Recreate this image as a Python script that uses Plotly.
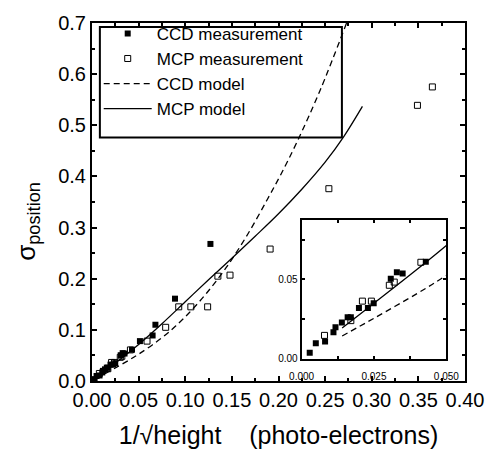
import plotly.graph_objects as go

# CCD measurements (filled squares)
ccd_x = [0.0028, 0.0049, 0.0081, 0.0110, 0.0117, 0.0139, 0.0159, 0.0170, 0.0198, 0.0229,
         0.0249, 0.0308, 0.0329, 0.0349, 0.0429, 0.0514, 0.065, 0.068, 0.089, 0.127]
ccd_y = [0.0037, 0.0098, 0.0108, 0.0167, 0.0198, 0.0228, 0.0261, 0.0261, 0.0320, 0.0320,
         0.0350, 0.0504, 0.0545, 0.0537, 0.0612, 0.078, 0.089, 0.110, 0.161, 0.268]

# MCP measurements (open squares)
mcp_x = [0.0079, 0.017, 0.021, 0.0241, 0.0303, 0.032, 0.0412, 0.059, 0.079, 0.093,
         0.106, 0.124, 0.135, 0.148, 0.191, 0.254, 0.349, 0.365]
mcp_y = [0.0147, 0.024, 0.0363, 0.0363, 0.0463, 0.0483, 0.0608, 0.078, 0.105, 0.145,
         0.145, 0.145, 0.205, 0.207, 0.258, 0.376, 0.539, 0.575]

# CCD model curve (dashed)
ccd_model_x = [0.014, 0.025, 0.04, 0.05, 0.065, 0.08, 0.09, 0.104, 0.123, 0.144,
               0.167, 0.188, 0.202, 0.22, 0.245, 0.273]
ccd_model_y = [0.0143, 0.0255, 0.0412, 0.0525, 0.071, 0.092, 0.108, 0.133, 0.172, 0.222,
               0.287, 0.355, 0.402, 0.468, 0.570, 0.700]

# MCP model curve (solid)
mcp_model_x = [0.014, 0.025, 0.05, 0.075, 0.1, 0.125, 0.15, 0.175, 0.2, 0.225, 0.25, 0.27, 0.29]
mcp_model_y = [0.0194, 0.035, 0.0714, 0.112, 0.155, 0.198, 0.24, 0.283, 0.327, 0.375, 0.428, 0.478, 0.537]

FONT = "Liberation Sans, Arial, sans-serif"
BLACK = "#000000"

fig = go.Figure()

# same data drawn on the main axes and on the zoomed inset axes
for xa, ya, show in (("x", "y", True), ("x2", "y2", False)):
    fig.add_trace(go.Scatter(
        x=ccd_x, y=ccd_y, mode="markers", name="CCD measurement",
        marker=dict(symbol="square", size=6, color=BLACK),
        xaxis=xa, yaxis=ya, showlegend=show))
    fig.add_trace(go.Scatter(
        x=mcp_x, y=mcp_y, mode="markers", name="MCP measurement",
        marker=dict(symbol="square-open", size=6, color=BLACK, line=dict(width=1, color=BLACK)),
        xaxis=xa, yaxis=ya, showlegend=show))
    fig.add_trace(go.Scatter(
        x=ccd_model_x, y=ccd_model_y, mode="lines", name="CCD model",
        line=dict(color=BLACK, width=1.3, dash="6px,4px", shape="spline"),
        xaxis=xa, yaxis=ya, showlegend=show))
    fig.add_trace(go.Scatter(
        x=mcp_model_x, y=mcp_model_y, mode="lines", name="MCP model",
        line=dict(color=BLACK, width=1.3, shape="spline"),
        xaxis=xa, yaxis=ya, showlegend=show))

main_axis = dict(
    showline=True, linewidth=2, linecolor=BLACK, mirror="ticks",
    ticks="inside", ticklen=5, tickwidth=1.5, tickcolor=BLACK,
    showgrid=False, zeroline=False,
    tickfont=dict(family=FONT, size=20, color=BLACK),
)
inset_axis = dict(
    showline=True, linewidth=2, linecolor=BLACK, mirror="ticks",
    ticks="inside", ticklen=3, tickwidth=1.5, tickcolor=BLACK,
    showgrid=False, zeroline=False,
    tickfont=dict(family=FONT, size=10, color=BLACK),
)

fig.update_layout(
    width=496, height=457,
    margin=dict(l=92, r=25, t=14, b=74),
    paper_bgcolor="white", plot_bgcolor="white",
    font=dict(family=FONT, color=BLACK),
    xaxis=dict(
        main_axis, range=[0, 0.4], dtick=0.05, tickformat=".2f",
        minor=dict(dtick=0.025, ticks="inside", ticklen=3, tickcolor=BLACK, showgrid=False),
        title=dict(text="1/\u221aheight\u00a0\u00a0\u00a0\u00a0(photo-electrons)",
                   font=dict(family=FONT, size=25, color=BLACK), standoff=16),
    ),
    yaxis=dict(
        main_axis, range=[0, 0.7], dtick=0.1, tickformat=".1f",
        minor=dict(dtick=0.05, ticks="inside", ticklen=3, tickcolor=BLACK, showgrid=False),
    ),
    xaxis2=dict(
        inset_axis, domain=[0.562, 0.950], anchor="y2", range=[0, 0.05],
        dtick=0.025, tickformat=".3f", ticklabelstandoff=7,
        minor=dict(dtick=0.0125, ticks="inside", ticklen=3, tickcolor=BLACK, showgrid=False),
    ),
    yaxis2=dict(
        inset_axis, domain=[0.0623, 0.4499], anchor="x2", range=[0, 0.0875],
        dtick=0.05, tickformat=".2f",
        minor=dict(dtick=0.025, ticks="inside", ticklen=3, tickcolor=BLACK, showgrid=False),
    ),
    legend=dict(
        x=0.018, y=1.020, xanchor="left", yanchor="top",
        bgcolor="rgba(0,0,0,0)", borderwidth=0,
        font=dict(family=FONT, size=17, color=BLACK),
        itemwidth=48,
    ),
    annotations=[
        dict(text="\u03c3<sub>position</sub>", xref="paper", yref="paper",
             x=-0.172, y=0.447, xanchor="center", yanchor="middle",
             textangle=-90, showarrow=False,
             font=dict(family=FONT, size=26, color=BLACK)),
    ],
    shapes=[
        # legend frame
        dict(type="rect", xref="paper", yref="paper", x0=0.0211, x1=0.670, y0=0.680, y1=0.989,
             line=dict(color=BLACK, width=2), fillcolor="rgba(0,0,0,0)", layer="above"),
    ],
)

fig.write_html("out.html")
